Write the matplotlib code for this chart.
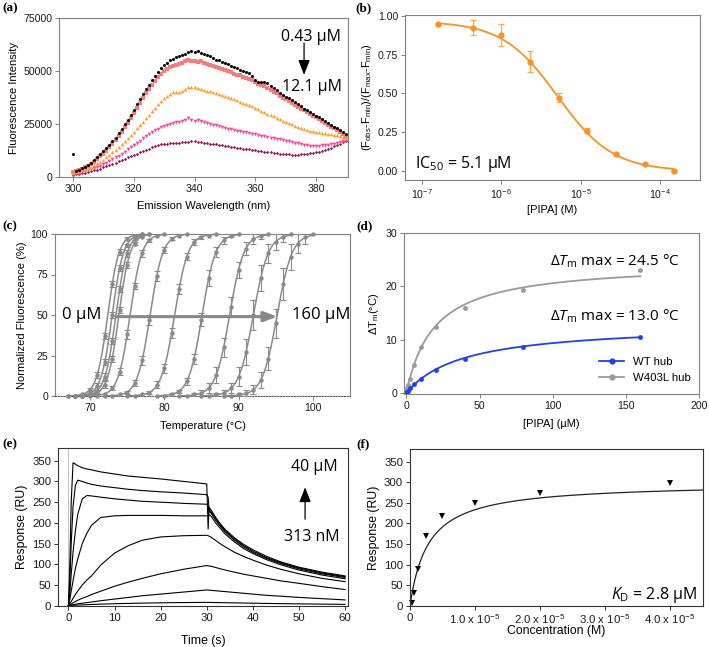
import numpy as np
import matplotlib
matplotlib.use('Agg')
import matplotlib.pyplot as plt
from matplotlib.ticker import FixedLocator, NullLocator
from matplotlib.lines import Line2D

plt.rcParams['font.family'] = ['Liberation Sans', 'DejaVu Sans']
plt.rcParams['mathtext.fontset'] = 'custom'
plt.rcParams['mathtext.rm'] = 'Open Sans'
plt.rcParams['mathtext.it'] = 'Open Sans:italic'
plt.rcParams['mathtext.bf'] = 'Open Sans:bold'

# ---------------- Panel (a) data: emission spectra (intensity in thousands) ----------------
a_wavelength = list(range(300, 391))
a_black = [11.0, 2.6, 3.4, 4.2, 4.9, 5.8, 6.8, 8.2, 9.6, 10.8, 12.2, 13.6, 15.2, 16.9, 18.6, 20.6,
           22.7, 24.9, 27.0, 29.4, 31.8, 34.5, 37.0, 39.3, 41.6, 43.5, 45.6, 47.8, 49.6, 51.2, 52.6,
           54.0, 55.0, 55.8, 56.6, 57.3, 57.6, 58.2, 58.8, 59.2, 59.1, 59.2, 58.6, 57.9, 57.4, 56.9,
           56.3, 55.4, 55.0, 54.3, 53.7, 53.2, 52.5, 51.8, 51.5, 50.6, 49.9, 49.3, 48.9, 47.5, 45.8,
           45.0, 44.8, 44.6, 44.2, 43.1, 42.2, 41.2, 39.8, 38.7, 37.9, 37.4, 36.4, 35.2, 34.4, 33.4,
           32.3, 31.5, 30.6, 29.8, 29.0, 28.2, 27.3, 26.4, 25.3, 24.5, 23.7, 22.9, 22.1, 21.2, 20.5]
a_salmon = [2.4, 2.8, 3.3, 3.9, 4.5, 5.3, 6.2, 7.3, 8.5, 9.8, 11.0, 12.5, 14.1, 15.7, 17.4, 19.3,
            21.3, 23.4, 25.6, 27.9, 30.2, 32.6, 35.0, 37.4, 39.6, 41.7, 43.6, 45.5, 47.2, 48.7, 50.0,
            51.0, 51.9, 52.5, 53.0, 53.4, 53.8, 54.6, 55.2, 54.7, 54.5, 54.4, 54.6, 54.0, 53.3, 52.7,
            52.2, 51.7, 51.2, 50.8, 50.4, 49.9, 49.3, 48.8, 48.3, 47.9, 47.4, 46.9, 46.3, 45.6, 45.0,
            44.1, 43.3, 42.7, 42.0, 41.2, 40.3, 39.4, 38.4, 37.5, 36.6, 35.8, 34.9, 34.0, 33.2, 32.3,
            31.5, 30.7, 29.9, 29.0, 28.2, 27.3, 26.4, 25.5, 24.6, 23.8, 22.9, 22.0, 21.0, 20.1, 19.3]
a_orange = [2.0, 2.3, 2.7, 3.1, 3.6, 4.2, 4.9, 5.6, 6.4, 7.3, 8.2, 9.3, 10.4, 11.6, 12.8, 14.1,
            15.5, 16.9, 18.3, 19.8, 21.3, 22.9, 24.5, 26.1, 27.8, 29.4, 31.0, 32.7, 34.3, 35.8, 37.2,
            38.4, 39.3, 39.9, 40.0, 40.1, 40.6, 41.6, 42.4, 42.5, 42.3, 41.9, 41.4, 41.0, 40.7, 40.4,
            39.9, 39.5, 39.0, 38.5, 38.0, 37.6, 37.1, 36.6, 36.1, 35.6, 35.1, 34.5, 33.9, 33.3, 32.6,
            32.0, 31.3, 30.6, 29.9, 29.2, 28.6, 27.9, 27.3, 26.6, 26.0, 25.4, 24.8, 24.2, 23.6, 23.1,
            22.6, 22.2, 21.8, 21.5, 21.2, 21.0, 20.8, 20.6, 20.4, 20.2, 19.9, 19.6, 19.2, 18.8, 18.3]
a_pink = [1.5, 1.7, 2.0, 2.3, 2.7, 3.1, 3.6, 4.1, 4.7, 5.3, 6.0, 6.7, 7.5, 8.3, 9.2, 10.1,
          11.0, 12.0, 13.0, 14.0, 15.0, 16.0, 17.1, 18.2, 19.2, 20.2, 21.1, 22.0, 22.8, 23.5, 24.1,
          24.6, 25.1, 25.5, 25.8, 26.1, 26.4, 26.9, 27.6, 27.1, 26.6, 26.9, 26.5, 26.0, 25.5, 25.0,
          24.6, 24.3, 23.9, 23.5, 23.1, 22.8, 22.5, 22.2, 21.9, 21.6, 21.3, 21.0, 20.7, 20.4, 20.1,
          19.8, 19.5, 19.2, 18.9, 18.6, 18.3, 18.0, 17.7, 17.4, 17.1, 16.8, 16.5, 16.2, 15.9, 15.6,
          15.3, 15.0, 14.8, 14.7, 14.6, 14.8, 15.0, 15.2, 15.1, 15.4, 15.8, 16.2, 16.6, 17.0, 17.4]
a_maroon = [1.0, 1.2, 1.4, 1.7, 2.0, 2.3, 2.7, 3.1, 3.5, 4.0, 4.5, 5.0, 5.6, 6.2, 6.8, 7.4,
            8.0, 8.6, 9.2, 9.8, 10.4, 11.0, 11.6, 12.2, 12.8, 13.4, 14.0, 14.5, 15.0, 15.4, 15.6,
            15.8, 15.9, 16.0, 16.1, 16.2, 16.3, 16.5, 16.7, 16.8, 16.8, 16.6, 16.4, 16.2, 16.0, 15.8,
            15.6, 15.4, 15.1, 14.9, 14.6, 14.4, 14.2, 14.0, 13.8, 13.6, 13.4, 13.2, 13.0, 12.8, 12.6,
            12.4, 12.2, 12.0, 11.8, 11.6, 11.4, 11.2, 11.0, 10.9, 10.8, 10.7, 10.6, 10.6, 10.6, 10.7,
            10.8, 10.9, 11.1, 11.3, 11.6, 12.0, 12.4, 12.9, 13.4, 13.9, 14.5, 15.1, 15.7, 16.3, 16.9]

# ---------------- Panel (b) data ----------------
b_conc = [1.6e-7, 4.4e-7, 1.0e-6, 2.3e-6, 5.3e-6, 1.2e-5, 2.8e-5, 6.4e-5, 1.47e-4]
b_resp = [0.948, 0.925, 0.875, 0.705, 0.472, 0.26, 0.11, 0.045, 0.0]
b_err = [0.005, 0.05, 0.07, 0.068, 0.03, 0.015, 0.005, 0.005, 0.005]
b_top, b_ic50, b_hill = 0.965, 5.1e-6, 1.25

# ---------------- Panel (c) data: thermal melts ----------------
c_tstart = [67, 67, 68, 68, 69, 72, 75, 79, 82, 85, 88]
c_values = [
    [0, 0, 1, 4, 13, 37, 69, 89, 97, 99, 100],
    [0, 0, 0, 2, 6, 21, 50, 79, 93, 98, 100],
    [0, 0, 1, 3, 12, 34, 66, 88, 97, 99, 100],
    [0, 0, 1, 2, 7, 23, 53, 81, 94, 98, 100],
    [0, 0, 0, 1, 5, 15, 38, 68, 88, 96, 99, 100],
    [0, 0, 1, 2, 8, 22, 47, 74, 90, 97, 99, 100],
    [0, 0, 1, 2, 7, 17, 39, 66, 86, 95, 98, 99, 100],
    [0, 0, 1, 3, 9, 23, 47, 73, 89, 96, 99, 100],
    [0, 0, 1, 2, 5, 13, 30, 55, 78, 91, 97, 99, 100],
    [0, 0, 1, 2, 5, 12, 27, 50, 73, 88, 95, 98, 100],
    [0, 0, 1, 2, 4, 10, 23, 45, 69, 86, 94, 98, 100],
]
c_err = [
    [0, 0, 0, 1, 2, 2, 2, 2, 1, 0, 0],
    [0, 0, 0, 1, 2, 2, 2, 2, 1, 0, 0],
    [0, 0, 0, 1, 2, 2, 2, 2, 1, 0, 0],
    [0, 0, 0, 1, 2, 2, 2, 2, 1, 0, 0],
    [0, 0, 0, 0, 1, 2, 3, 2, 2, 1, 0, 0],
    [0, 0, 0, 1, 2, 3, 3, 3, 2, 1, 0, 0],
    [0, 0, 0, 1, 2, 3, 3, 3, 2, 2, 1, 0, 0],
    [0, 0, 1, 1, 2, 3, 4, 5, 3, 2, 1, 0],
    [0, 0, 1, 2, 3, 5, 6, 6, 5, 4, 3, 2, 0],
    [0, 0, 1, 2, 3, 6, 8, 9, 8, 6, 5, 3, 0],
    [0, 0, 1, 2, 3, 5, 7, 9, 10, 8, 6, 4, 0],
]
c_tm = [72.4, 73.0, 73.5, 73.9, 75.4, 78.1, 81.4, 85.1, 88.8, 92.0, 95.2]
c_slope = [0.75, 0.75, 0.75, 0.75, 0.8, 0.85, 0.9, 0.9, 0.95, 1.0, 1.0]

# ---------------- Panel (d) data ----------------
d_wt_x = [0, 0.3125, 0.625, 1.25, 2.5, 5, 10, 20, 40, 80, 160]
d_wt_y = [0, 0.1, 0.2, 0.4, 0.9, 1.6, 2.6, 4.3, 6.4, 8.6, 10.5]
d_mut_x = [0, 0.3125, 0.625, 1.25, 2.5, 5, 10, 20, 40, 80, 160]
d_mut_y = [0, 0.5, 1.0, 1.5, 2.6, 5.2, 8.6, 12.3, 16.0, 19.3, 23.0]
d_wt_max, d_wt_k = 13.0, 39.0
d_mut_max, d_mut_k = 24.5, 19.0

# ---------------- Panel (e) data: sensorgrams ----------------
e_t_assoc = [0, 0.3, 0.6, 1, 1.5, 2, 3, 4, 5, 7, 10, 13, 16, 20, 25, 30]
e_t_dissoc = [30.3, 30.5, 31, 32, 33, 34, 36, 38, 40, 43, 46, 50, 55, 60]
e_assoc = [
    [0, 100, 250, 345, 342, 338, 333, 330, 328, 323, 318, 313, 310, 306, 300, 294],
    [0, 60, 150, 240, 290, 303, 300, 296, 293, 289, 285, 281, 278, 275, 272, 268],
    [0, 30, 75, 130, 180, 220, 258, 266, 265, 262, 258, 255, 252, 250, 247, 245],
    [0, 15, 35, 60, 90, 112, 150, 175, 194, 213, 217, 218, 218, 218, 217, 217],
    [0, 5, 10, 18, 27, 35, 50, 62, 72, 98, 127, 145, 158, 166, 169, 170],
    [0, 2, 4, 7, 10, 13, 18, 22, 27, 35, 47, 57, 66, 77, 88, 97],
    [0, 1, 1.5, 2.5, 3.5, 4.5, 6, 7.5, 9, 12, 16, 20, 24, 28, 33, 38],
    [0, 0.3, 0.5, 1, 1.2, 1.5, 2, 2.5, 3, 3.8, 4.8, 5.6, 6.2, 7, 7.6, 8],
]
e_dissoc = [
    [185, 238, 230, 212, 197, 184, 164, 148, 135, 119, 106, 93, 81, 72],
    [262, 232, 226, 209, 194, 181, 161, 145, 132, 116, 104, 91, 79, 70],
    [240, 228, 222, 205, 191, 178, 158, 142, 129, 114, 102, 89, 77, 68],
    [217, 220, 215, 199, 186, 173, 154, 138, 126, 111, 99, 86, 74, 65],
    [169, 168, 165, 157, 149, 142, 129, 119, 110, 98, 88, 77, 66, 58],
    [96, 96, 95, 92, 89, 86, 81, 76, 72, 66, 60, 54, 46, 39],
    [38, 37.5, 37, 36, 35, 34, 32, 30, 28, 25, 23, 20, 17, 14],
    [8, 8, 7.8, 7.6, 7.4, 7.2, 6.8, 6.4, 6, 5.5, 5, 4.4, 3.8, 3.2],
]

# ---------------- Panel (f) data ----------------
f_conc = [0.3125e-6, 0.625e-6, 1.25e-6, 2.5e-6, 5e-6, 10e-6, 20e-6, 40e-6]
f_resp = [6, 32, 89, 169, 219, 249, 273, 299]
f_rmax, f_kd = 298.5, 2.8e-6

# ================= Figure =================
W, H = 709, 647
fig = plt.figure(figsize=(W / 100, H / 100), dpi=100)


def add_ax(l, r, t, b):
    return fig.add_axes([l / W, 1 - b / H, (r - l) / W, (b - t) / H])


GRAY = '#808080'
TICK_FS = 7.6
LAB_FS = 8.0


def style(ax, spine_color=GRAY):
    for s in ax.spines.values():
        s.set_color(spine_color)
        s.set_linewidth(0.8)
    ax.tick_params(direction='out', length=3, width=0.7, color=spine_color,
                   labelsize=TICK_FS, pad=2, labelcolor='#1a1a1a')


annot_font = {'family': ['Open Sans', 'DejaVu Sans']}

# ---- (a)
ax = add_ax(59, 348, 18, 177)
style(ax)
wl = np.array(a_wavelength)
ax.plot(wl, np.array(a_maroon) * 1000, 'D', ms=1.7, color='#8e1f52', mew=0, clip_on=False)
ax.plot(wl, np.array(a_pink) * 1000, 'v', ms=2.6, color='#ff3c9e', mew=0, clip_on=False)
ax.plot(wl, np.array(a_orange) * 1000, '^', ms=2.6, color='#ff9c2a', mew=0, clip_on=False)
ax.plot(wl, np.array(a_salmon) * 1000, 's', ms=2.7, color='#f77b7b', mew=0, clip_on=False)
ax.plot(wl, np.array(a_black) * 1000, 'o', ms=2.2, color='black', mew=0, clip_on=False)
ax.set_xlim(295.4, 390.5)
ax.set_ylim(0, 75000)
ax.xaxis.set_major_locator(FixedLocator([300, 320, 340, 360, 380]))
ax.yaxis.set_major_locator(FixedLocator([0, 25000, 50000, 75000]))
ax.set_xlabel('Emission Wavelength (nm)', fontsize=LAB_FS, labelpad=5)
ax.set_ylabel('Fluorescence Intensity', fontsize=LAB_FS, labelpad=3)
ax.text(0.975, 0.88, '0.43 µM', transform=ax.transAxes, ha='right', va='center', fontsize=11.5, **annot_font)
ax.text(0.978, 0.566, '12.1 µM', transform=ax.transAxes, ha='right', va='center', fontsize=11.5, **annot_font)
ax.annotate('', xy=(0.848, 0.625), xytext=(0.848, 0.86), xycoords='axes fraction',
            arrowprops=dict(arrowstyle='-|>,head_width=0.35,head_length=0.9', color='black', lw=0.9))

# ---- (b)
ax = add_ax(405, 700, 15, 180)
style(ax)
ax.set_xscale('log')
xs = np.logspace(np.log10(b_conc[0]), np.log10(b_conc[-1]), 300)
ax.plot(xs, b_top / (1 + (xs / b_ic50) ** b_hill), color='#f7931e', lw=1.3)
ax.errorbar(b_conc, b_resp, yerr=b_err, fmt='o', ms=3.5, color='#f7931e', ecolor='#f9a850',
            elinewidth=0.9, capsize=2.5, capthick=0.9)
ax.set_xlim(10 ** -7.21, 10 ** -3.5)
ax.set_ylim(-0.058, 1.006)
ax.xaxis.set_major_locator(FixedLocator([1e-7, 1e-6, 1e-5, 1e-4]))
ax.xaxis.set_minor_locator(NullLocator())
ax.yaxis.set_major_locator(FixedLocator([0, 0.25, 0.5, 0.75, 1.0]))
ax.yaxis.set_major_formatter(matplotlib.ticker.FormatStrFormatter('%.2f'))
ax.set_xlabel('[PIPA] (M)', fontsize=LAB_FS, labelpad=3)
ax.set_ylabel(r'(F$_{\mathdefault{obs}}$-F$_{\mathdefault{min}}$)/(F$_{\mathdefault{max}}$-F$_{\mathdefault{min}}$)',
              fontsize=LAB_FS, labelpad=3)
ax.text(0.034, 0.097, r'IC$_{50}$ = 5.1 µM', transform=ax.transAxes, ha='left', va='center',
        fontsize=11.5, **annot_font)

# ---- (c)
ax = add_ax(55, 350, 234, 396)
style(ax)
ax.spines['bottom'].set_linestyle((0, (1, 1.5)))
ax.spines['bottom'].set_color('#555555')
CG = '#8a8a8a'
for t0, vals, errs, tm, s in zip(c_tstart, c_values, c_err, c_tm, c_slope):
    T = np.arange(t0, t0 + len(vals))
    tt = np.linspace(T[0], T[-1], 200)
    ax.plot(tt, 100 / (1 + np.exp(-(tt - tm) / s)), color=CG, lw=1.1, clip_on=False, zorder=2)
    ax.plot(T, vals, 'o', ms=3.2, color=CG, mew=0, clip_on=False, zorder=3)
    errs = np.array(errs, dtype=float)
    m = errs > 0
    if m.any():
        ax.errorbar(T[m], np.array(vals, dtype=float)[m], yerr=errs[m], fmt='none', ecolor=CG,
                    elinewidth=0.8, capsize=2.2, capthick=0.8, zorder=3)
ax.set_xlim(65.3, 105)
ax.set_ylim(0, 100)
ax.xaxis.set_major_locator(FixedLocator([70, 80, 90, 100]))
ax.yaxis.set_major_locator(FixedLocator([0, 25, 50, 75, 100]))
ax.set_xlabel('Temperature (°C)', fontsize=LAB_FS, labelpad=6)
ax.set_ylabel('Normalized Fluorescence (%)', fontsize=LAB_FS, labelpad=3)
ax.text(0.024, 0.5, '0 µM', transform=ax.transAxes, ha='left', va='center', fontsize=12, **annot_font)
ax.text(0.803, 0.5, '160 µM', transform=ax.transAxes, ha='left', va='center', fontsize=12, **annot_font)
ax.annotate('', xy=(95.6, 49), xytext=(73.1, 49), xycoords='data',
            arrowprops=dict(arrowstyle='-|>,head_width=0.3,head_length=0.8', color='#888888', lw=2.2),
            zorder=5)

# ---- (d)
ax = add_ax(404, 699, 233, 394)
style(ax)
BLUE = '#1f3ff5'
DG = '#9a9a9a'
xx = np.linspace(0, 160, 300)
ax.plot(xx, d_mut_max * xx / (d_mut_k + xx), color=DG, lw=1.3)
ax.plot(d_mut_x, d_mut_y, 'o', ms=3.5, color=DG, mew=0)
ax.plot(xx, d_wt_max * xx / (d_wt_k + xx), color=BLUE, lw=1.3)
ax.plot(d_wt_x, d_wt_y, 'o', ms=3.5, color=BLUE, mew=0)
ax.set_xlim(-1.6, 200)
ax.set_ylim(-0.2, 30)
ax.xaxis.set_major_locator(FixedLocator([0, 50, 100, 150, 200]))
ax.yaxis.set_major_locator(FixedLocator([0, 10, 20, 30]))
ax.set_xlabel('[PIPA] (µM)', fontsize=LAB_FS, labelpad=6)
ax.set_ylabel(r'ΔT$_{\mathdefault{m}}$(°C)', fontsize=LAB_FS, labelpad=3)
handles = [Line2D([], [], color=BLUE, marker='o', ms=3.5, lw=1.3),
           Line2D([], [], color=DG, marker='o', ms=3.5, lw=1.3)]
ax.legend(handles, ['WT hub', 'W403L hub'], loc='lower right', frameon=False, fontsize=8.2,
          handlelength=2.2, borderaxespad=0.3, labelspacing=0.5, bbox_to_anchor=(1.0, 0.02))
ax.text(0.495, 0.825, r'Δ$\mathit{T}_{\mathrm{m}}$ max = 24.5 °C', transform=ax.transAxes,
        ha='left', va='center', fontsize=11, **annot_font)
ax.text(0.495, 0.484, r'Δ$\mathit{T}_{\mathrm{m}}$ max = 13.0 °C', transform=ax.transAxes,
        ha='left', va='center', fontsize=11, **annot_font)

# ---- (e)
ax = add_ax(58.3, 348.3, 448.3, 605.7)
style(ax, '#333333')
ax.axvline(0, color='#c0c0c0', lw=0.7, zorder=0)
for ya, yd in zip(e_assoc, e_dissoc):
    ax.plot(list(e_t_assoc) + list(e_t_dissoc), list(ya) + list(yd), color='black', lw=0.8)
ax.set_xlim(-2.2, 60.7)
ax.set_ylim(0, 380)
ax.xaxis.set_major_locator(FixedLocator([0, 10, 20, 30, 40, 50, 60]))
ax.yaxis.set_major_locator(FixedLocator([0, 50, 100, 150, 200, 250, 300, 350]))
ax.tick_params(labelsize=8.2)
ax.set_xlabel('Time (s)', fontsize=8.8)
ax.xaxis.set_label_coords(0.5, -0.186)
ax.xaxis.label.set_va('top')
ax.set_ylabel('Response (RU)', fontsize=8.8, labelpad=3)
ax.text(0.964, 0.881, '40 µM', transform=ax.transAxes, ha='right', va='center', fontsize=11.5, **annot_font)
ax.text(0.971, 0.436, '313 nM', transform=ax.transAxes, ha='right', va='center', fontsize=11.5, **annot_font)
ax.annotate('', xy=(0.851, 0.77), xytext=(0.851, 0.532), xycoords='axes fraction',
            arrowprops=dict(arrowstyle='-|>,head_width=0.35,head_length=0.9', color='black', lw=0.9))

# ---- (f)
ax = add_ax(410, 703, 449.3, 605.7)
style(ax, '#333333')
cx = np.linspace(0, 4.51e-5, 400)
ax.plot(cx, f_rmax * cx / (f_kd + cx), color='#222222', lw=0.9)
ax.plot(f_conc, f_resp, 'v', ms=4, color='black', mew=0, clip_on=False)
ax.set_xlim(0, 4.51e-5)
ax.set_ylim(0, 380)
ax.xaxis.set_major_locator(FixedLocator([0, 1e-5, 2e-5, 3e-5, 4e-5]))
ax.set_xticklabels(['0', r'1.0 x 10$^{\mathdefault{-5}}$', r'2.0 x 10$^{\mathdefault{-5}}$',
                    r'3.0 x 10$^{\mathdefault{-5}}$', r'4.0 x 10$^{\mathdefault{-5}}$'])
ax.yaxis.set_major_locator(FixedLocator([0, 50, 100, 150, 200, 250, 300, 350]))
ax.tick_params(labelsize=8.2)
ax.set_xlabel('Concentration (M)', fontsize=8.8)
ax.xaxis.set_label_coords(0.5, -0.125)
ax.xaxis.label.set_va('top')
ax.set_ylabel('Response (RU)', fontsize=8.8, labelpad=3)
ax.text(0.98, 0.068, r'$\mathit{K}_{\mathrm{D}}$ = 2.8 µM', transform=ax.transAxes, ha='right',
        va='center', fontsize=11.5, **annot_font)

# ---- panel letters
serif = {'family': ['Liberation Serif', 'DejaVu Serif'], 'weight': 'bold', 'size': 9.5}
for lab, x, y in [('(a)', 2, 2), ('(b)', 355, 2), ('(c)', 2, 220), ('(d)', 356, 220),
                  ('(e)', 2, 438), ('(f)', 356, 438)]:
    fig.text(x / W, 1 - y / H, lab, ha='left', va='top', **serif)

fig.savefig('out.png', dpi=100)
